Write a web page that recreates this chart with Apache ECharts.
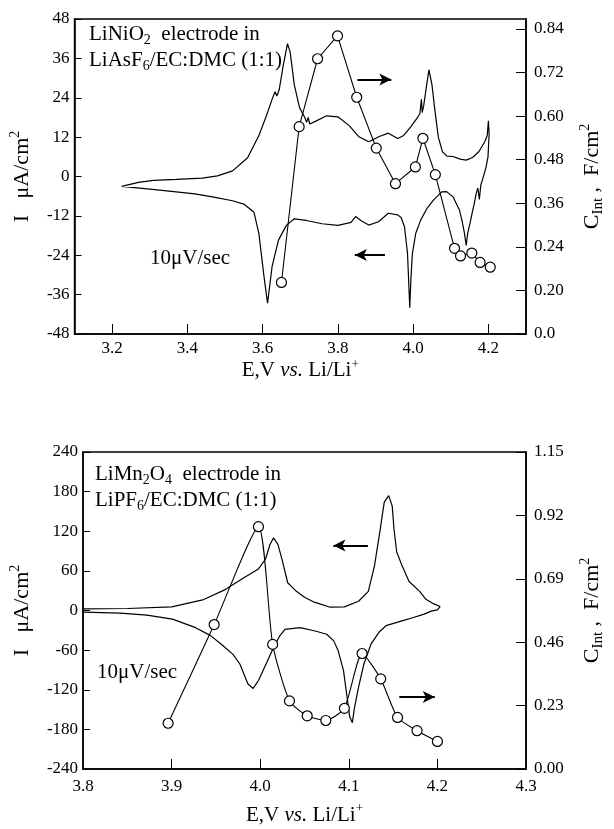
<!DOCTYPE html>
<html>
<head>
<meta charset="utf-8">
<script src="https://cdn.jsdelivr.net/npm/echarts@6/dist/echarts.min.js"></script>
<style>
html,body{margin:0;padding:0;background:#fff;}
#chart{width:614px;height:829px;}
</style>
</head>
<body>
<div id="chart"></div>
<script>
// ---------- Top panel: LiNiO2 ----------
const topCvE = [3.225,3.27,3.31,3.37,3.44,3.48,3.52,3.56,3.59,3.61,3.625,3.633,3.638,3.644,3.655,3.666,3.673,3.684,3.698,3.712,3.717,3.721,3.725,3.74,3.77,3.80,3.83,3.856,3.882,3.91,3.934,3.959,3.975,3.994,4.012,4.018,4.022,4.024,4.028,4.036,4.042,4.05,4.058,4.067,4.078,4.09,4.106,4.125,4.141,4.158,4.175,4.19,4.197,4.200,
  4.202,4.199,4.193,4.188,4.184,4.18,4.176,4.172,4.168,4.162,4.158,4.153,4.145,4.141,4.136,4.13,4.123,4.106,4.089,4.076,4.054,4.037,4.02,4.007,3.998,3.994,3.991,3.988,3.985,3.977,3.968,3.959,3.934,3.908,3.882,3.862,3.847,3.835,3.80,3.758,3.716,3.684,3.663,3.642,3.625,3.613,3.603,3.59,3.577,3.55,3.52,3.47,3.42,3.32,3.225];
const topCvI = [-3.0,-1.8,-1.2,-0.9,-0.5,0.2,1.7,5.7,12.5,18.5,23.5,25.8,24.5,26.5,34,40.5,38,28,21,18,16.5,18,16,16.8,18.5,18.2,15.5,12.1,10.6,12.2,13.2,11.6,12.5,15.2,18,19.3,23.5,19.5,21.5,28,32.5,28,20,12,7.5,6.2,6.1,5.3,5.0,5.8,7.6,10.5,12.5,17,
  13,6,2.5,0.5,-1.1,-2.5,-7,-3.5,-5,-8.5,-10.5,-13.3,-17.3,-21,-17,-13.5,-10.2,-6.2,-4.6,-4.7,-7.2,-9.7,-13.3,-17.3,-23.4,-31.5,-40,-31.5,-23.4,-15.3,-12.5,-11.7,-11.2,-13.8,-14.8,-13.5,-12.2,-14,-14.9,-14.4,-13.4,-12.9,-14.9,-19.4,-27.5,-38.6,-30,-17.4,-10.9,-8.4,-7.4,-6.3,-5.3,-4.1,-3.0];
const topCapE = [3.65,3.697,3.746,3.799,3.85,3.902,3.953,4.006,4.026,4.059,4.11,4.126,4.156,4.178,4.205];
const topCapC = [0.142,0.571,0.758,0.821,0.652,0.512,0.414,0.460,0.539,0.439,0.236,0.215,0.223,0.197,0.184];
const topXTicks = [3.2,3.4,3.6,3.8,4.0,4.2];
const topRightTicks = [0,0.12,0.24,0.36,0.48,0.60,0.72,0.84];
const topRightLabels = ['0.0','0.20','0.24','0.36','0.48','0.60','0.72','0.84'];

// ---------- Bottom panel: LiMn2O4 ----------
const botCvE = [3.800,3.85,3.90,3.935,3.961,3.982,3.998,4.006,4.011,4.015,4.020,4.025,4.031,4.040,4.050,4.061,4.079,4.095,4.111,4.122,4.129,4.135,4.140,4.145,4.149,4.151,4.154,4.160,4.168,4.180,4.187,4.196,4.203,
  4.200,4.193,4.185,4.172,4.159,4.142,4.134,4.125,4.117,4.111,4.106,4.104,4.101,4.098,4.094,4.088,4.083,4.075,4.062,4.045,4.028,4.022,4.015,4.007,3.998,3.992,3.986,3.977,3.969,3.956,3.944,3.927,3.901,3.872,3.842,3.800];
const botCvI = [2.5,3,5.5,16,32,50,63,78,100,110,100,75,42,30,20,12.6,5,5.5,14,29,68,119,164,174,158,123,89,68,44,29,17,10,6,
  1,-1,-5.5,-11,-16,-23,-33,-51,-81,-116,-150,-170,-161,-131,-91,-61,-46,-36,-31,-26,-28.6,-38.6,-56,-80,-106,-118,-111,-81,-66,-51,-38,-26,-13,-7,-4,-2.5];
const botCapE = [3.896,3.948,3.998,4.014,4.033,4.053,4.074,4.095,4.115,4.136,4.155,4.177,4.200];
const botCapC = [0.166,0.524,0.879,0.452,0.247,0.193,0.176,0.220,0.419,0.327,0.187,0.139,0.100];
const botXTicks = [3.9,4.0,4.1,4.2];
const botXLabels = [3.8,3.9,4.0,4.1,4.2,4.3];
const botRightTicks = [0,0.23,0.46,0.69,0.92,1.15];

// ---------- Annotation arrows (data coords) ----------
const topArrowRight = [[3.852,29.6],[3.942,29.6]];
const topArrowLeft = [[3.925,-23.9],[3.845,-23.9]];
const botArrowLeft = [[4.1215,98.4],[4.0826,98.4]];
const botArrowRight = [[4.157,-131],[4.197,-131]];

const FONT = 'Liberation Serif';
const pairs = (xs, ys) => xs.map((x, i) => [x, ys[i]]);

function arrow(seg){
  return [{coord: seg[0], symbol: 'none'}, {coord: seg[1], symbol: 'arrow'}];
}
const axisText = {fontFamily: FONT, fontSize: 17, color: '#000'};
const nameStyle = {
  fontFamily: FONT, fontSize: 22, color: '#000', lineHeight: 28,
  rich: {
    sup: {fontFamily: FONT, fontSize: 14, lineHeight: 14, verticalAlign: 'top', color: '#000'},
    sub: {fontFamily: FONT, fontSize: 15, lineHeight: 14, verticalAlign: 'bottom', color: '#000'},
    it: {fontFamily: FONT, fontSize: 22, fontStyle: 'italic', color: '#000', lineHeight: 28}
  }
};
const xNameStyle = {
  fontFamily: FONT, fontSize: 21, color: '#000', lineHeight: 26,
  rich: {
    sup: {fontFamily: FONT, fontSize: 13, lineHeight: 13, verticalAlign: 'top', color: '#000'},
    it: {fontFamily: FONT, fontSize: 21, fontStyle: 'italic', color: '#000', lineHeight: 26}
  }
};
const annRich = {
  sub: {fontFamily: FONT, fontSize: 14, lineHeight: 13, verticalAlign: 'bottom', fill: '#000'}
};
function textEl(left, top, text){
  return {type: 'text', left: left, top: top, silent: true,
    style: {text: text, fontFamily: FONT, fontSize: 21, fill: '#000', lineHeight: 26, rich: annRich}};
}
const frameLine = {show: true, onZero: false, lineStyle: {color: '#000', width: 1.5}};

const chart = echarts.init(document.getElementById('chart'), null, {renderer: 'canvas'});
const option = {
  animation: false,
  backgroundColor: '#fff',
  grid: [
    {left: 71, top: 19, width: 464, height: 315, show: true, borderColor: '#000', borderWidth: 1.5, backgroundColor: 'transparent'},
    {left: 71, top: 452, width: 464, height: 321, show: true, borderColor: '#000', borderWidth: 1.5, backgroundColor: 'transparent'}
  ],
  xAxis: [
    {type: 'value', gridIndex: 0, min: 3.1, max: 4.3, position: 'bottom',
     axisLine: frameLine,
     axisTick: {show: true, inside: true, length: 10, customValues: topXTicks, lineStyle: {color: '#000', width: 1}},
     axisLabel: Object.assign({customValues: topXTicks, margin: 6, formatter: v => v.toFixed(1)}, axisText),
     splitLine: {show: false},
     name: 'E,V {it|vs.} Li/Li{sup|+}', nameLocation: 'middle', nameGap: 22, nameTextStyle: xNameStyle},
    {type: 'value', gridIndex: 1, min: 3.8, max: 4.3, position: 'bottom',
     axisLine: frameLine,
     axisTick: {show: true, inside: true, length: 10, customValues: botXTicks, lineStyle: {color: '#000', width: 1}},
     axisLabel: Object.assign({customValues: botXLabels, margin: 9, formatter: v => v.toFixed(1)}, axisText),
     splitLine: {show: false},
     name: 'E,V {it|vs.} Li/Li{sup|+}', nameLocation: 'middle', nameGap: 33, nameTextStyle: xNameStyle}
  ],
  yAxis: [
    {type: 'value', gridIndex: 0, min: -48, max: 48, interval: 12, position: 'left',
     axisLine: frameLine,
     axisTick: {show: true, inside: true, length: 7, lineStyle: {color: '#000', width: 1}},
     axisLabel: Object.assign({margin: 5}, axisText), splitLine: {show: false},
     name: 'I   μA/cm{sup|2}', nameLocation: 'middle', nameRotate: 90, nameGap: 38, nameTextStyle: nameStyle},
    {type: 'value', gridIndex: 0, min: 0, max: 0.8675, position: 'right',
     axisLine: frameLine,
     axisTick: {show: true, inside: true, length: 10, customValues: topRightTicks, lineStyle: {color: '#000', width: 1}},
     axisLabel: Object.assign({margin: 8, customValues: topRightTicks,
       formatter: v => { const i = topRightTicks.findIndex(t => Math.abs(t - v) < 1e-6); return i >= 0 ? topRightLabels[i] : ''; }}, axisText),
     splitLine: {show: false},
     name: 'C{sub|Int} ,  F/cm{sup|2}', nameLocation: 'middle', nameRotate: 90, nameGap: 52, nameTextStyle: nameStyle},
    {type: 'value', gridIndex: 1, min: -240, max: 240, interval: 60, position: 'left',
     axisLine: frameLine,
     axisTick: {show: true, inside: true, length: 7, lineStyle: {color: '#000', width: 1}},
     axisLabel: Object.assign({margin: 5}, axisText), splitLine: {show: false},
     name: 'I   μA/cm{sup|2}', nameLocation: 'middle', nameRotate: 90, nameGap: 38, nameTextStyle: nameStyle},
    {type: 'value', gridIndex: 1, min: 0, max: 1.15, position: 'right',
     axisLine: frameLine,
     axisTick: {show: true, inside: true, length: 10, customValues: botRightTicks, lineStyle: {color: '#000', width: 1}},
     axisLabel: Object.assign({margin: 8, customValues: botRightTicks, formatter: v => v.toFixed(2)}, axisText),
     splitLine: {show: false},
     name: 'C{sub|Int} ,  F/cm{sup|2}', nameLocation: 'middle', nameRotate: 90, nameGap: 52, nameTextStyle: nameStyle}
  ],
  series: [
    {type: 'line', xAxisIndex: 0, yAxisIndex: 0, data: pairs(topCvE, topCvI), showSymbol: false, symbol: 'none',
     lineStyle: {color: '#000', width: 1.2}, silent: true,
     markLine: {silent: true, symbolSize: [9, 12], label: {show: false}, lineStyle: {color: '#000', width: 2, type: 'solid'},
       data: [arrow(topArrowRight), arrow(topArrowLeft)]}},
    {type: 'line', xAxisIndex: 0, yAxisIndex: 1, data: pairs(topCapE, topCapC), symbol: 'circle', symbolSize: 10,
     itemStyle: {color: '#fff', borderColor: '#000', borderWidth: 1.2}, lineStyle: {color: '#000', width: 1.1}, silent: true, z: 3},
    {type: 'line', xAxisIndex: 1, yAxisIndex: 2, data: pairs(botCvE, botCvI), showSymbol: false, symbol: 'none',
     lineStyle: {color: '#000', width: 1.2}, silent: true,
     markLine: {silent: true, symbolSize: [9, 12], label: {show: false}, lineStyle: {color: '#000', width: 2, type: 'solid'},
       data: [arrow(botArrowLeft), arrow(botArrowRight)]}},
    {type: 'line', xAxisIndex: 1, yAxisIndex: 3, data: pairs(botCapE, botCapC), symbol: 'circle', symbolSize: 10, smooth: 0.2,
     itemStyle: {color: '#fff', borderColor: '#000', borderWidth: 1.2}, lineStyle: {color: '#000', width: 1.1}, silent: true, z: 3}
  ],
  graphic: [
    textEl(89, 21, 'LiNiO{sub|2}  electrode in'),
    textEl(89, 47, 'LiAsF{sub|6}/EC:DMC (1:1)'),
    textEl(150, 245, '10μV/sec'),
    textEl(95, 461, 'LiMn{sub|2}O{sub|4}  electrode in'),
    textEl(95, 487, 'LiPF{sub|6}/EC:DMC (1:1)'),
    textEl(97, 659, '10μV/sec')
  ]
};
chart.setOption(option);
</script>
</body>
</html>
